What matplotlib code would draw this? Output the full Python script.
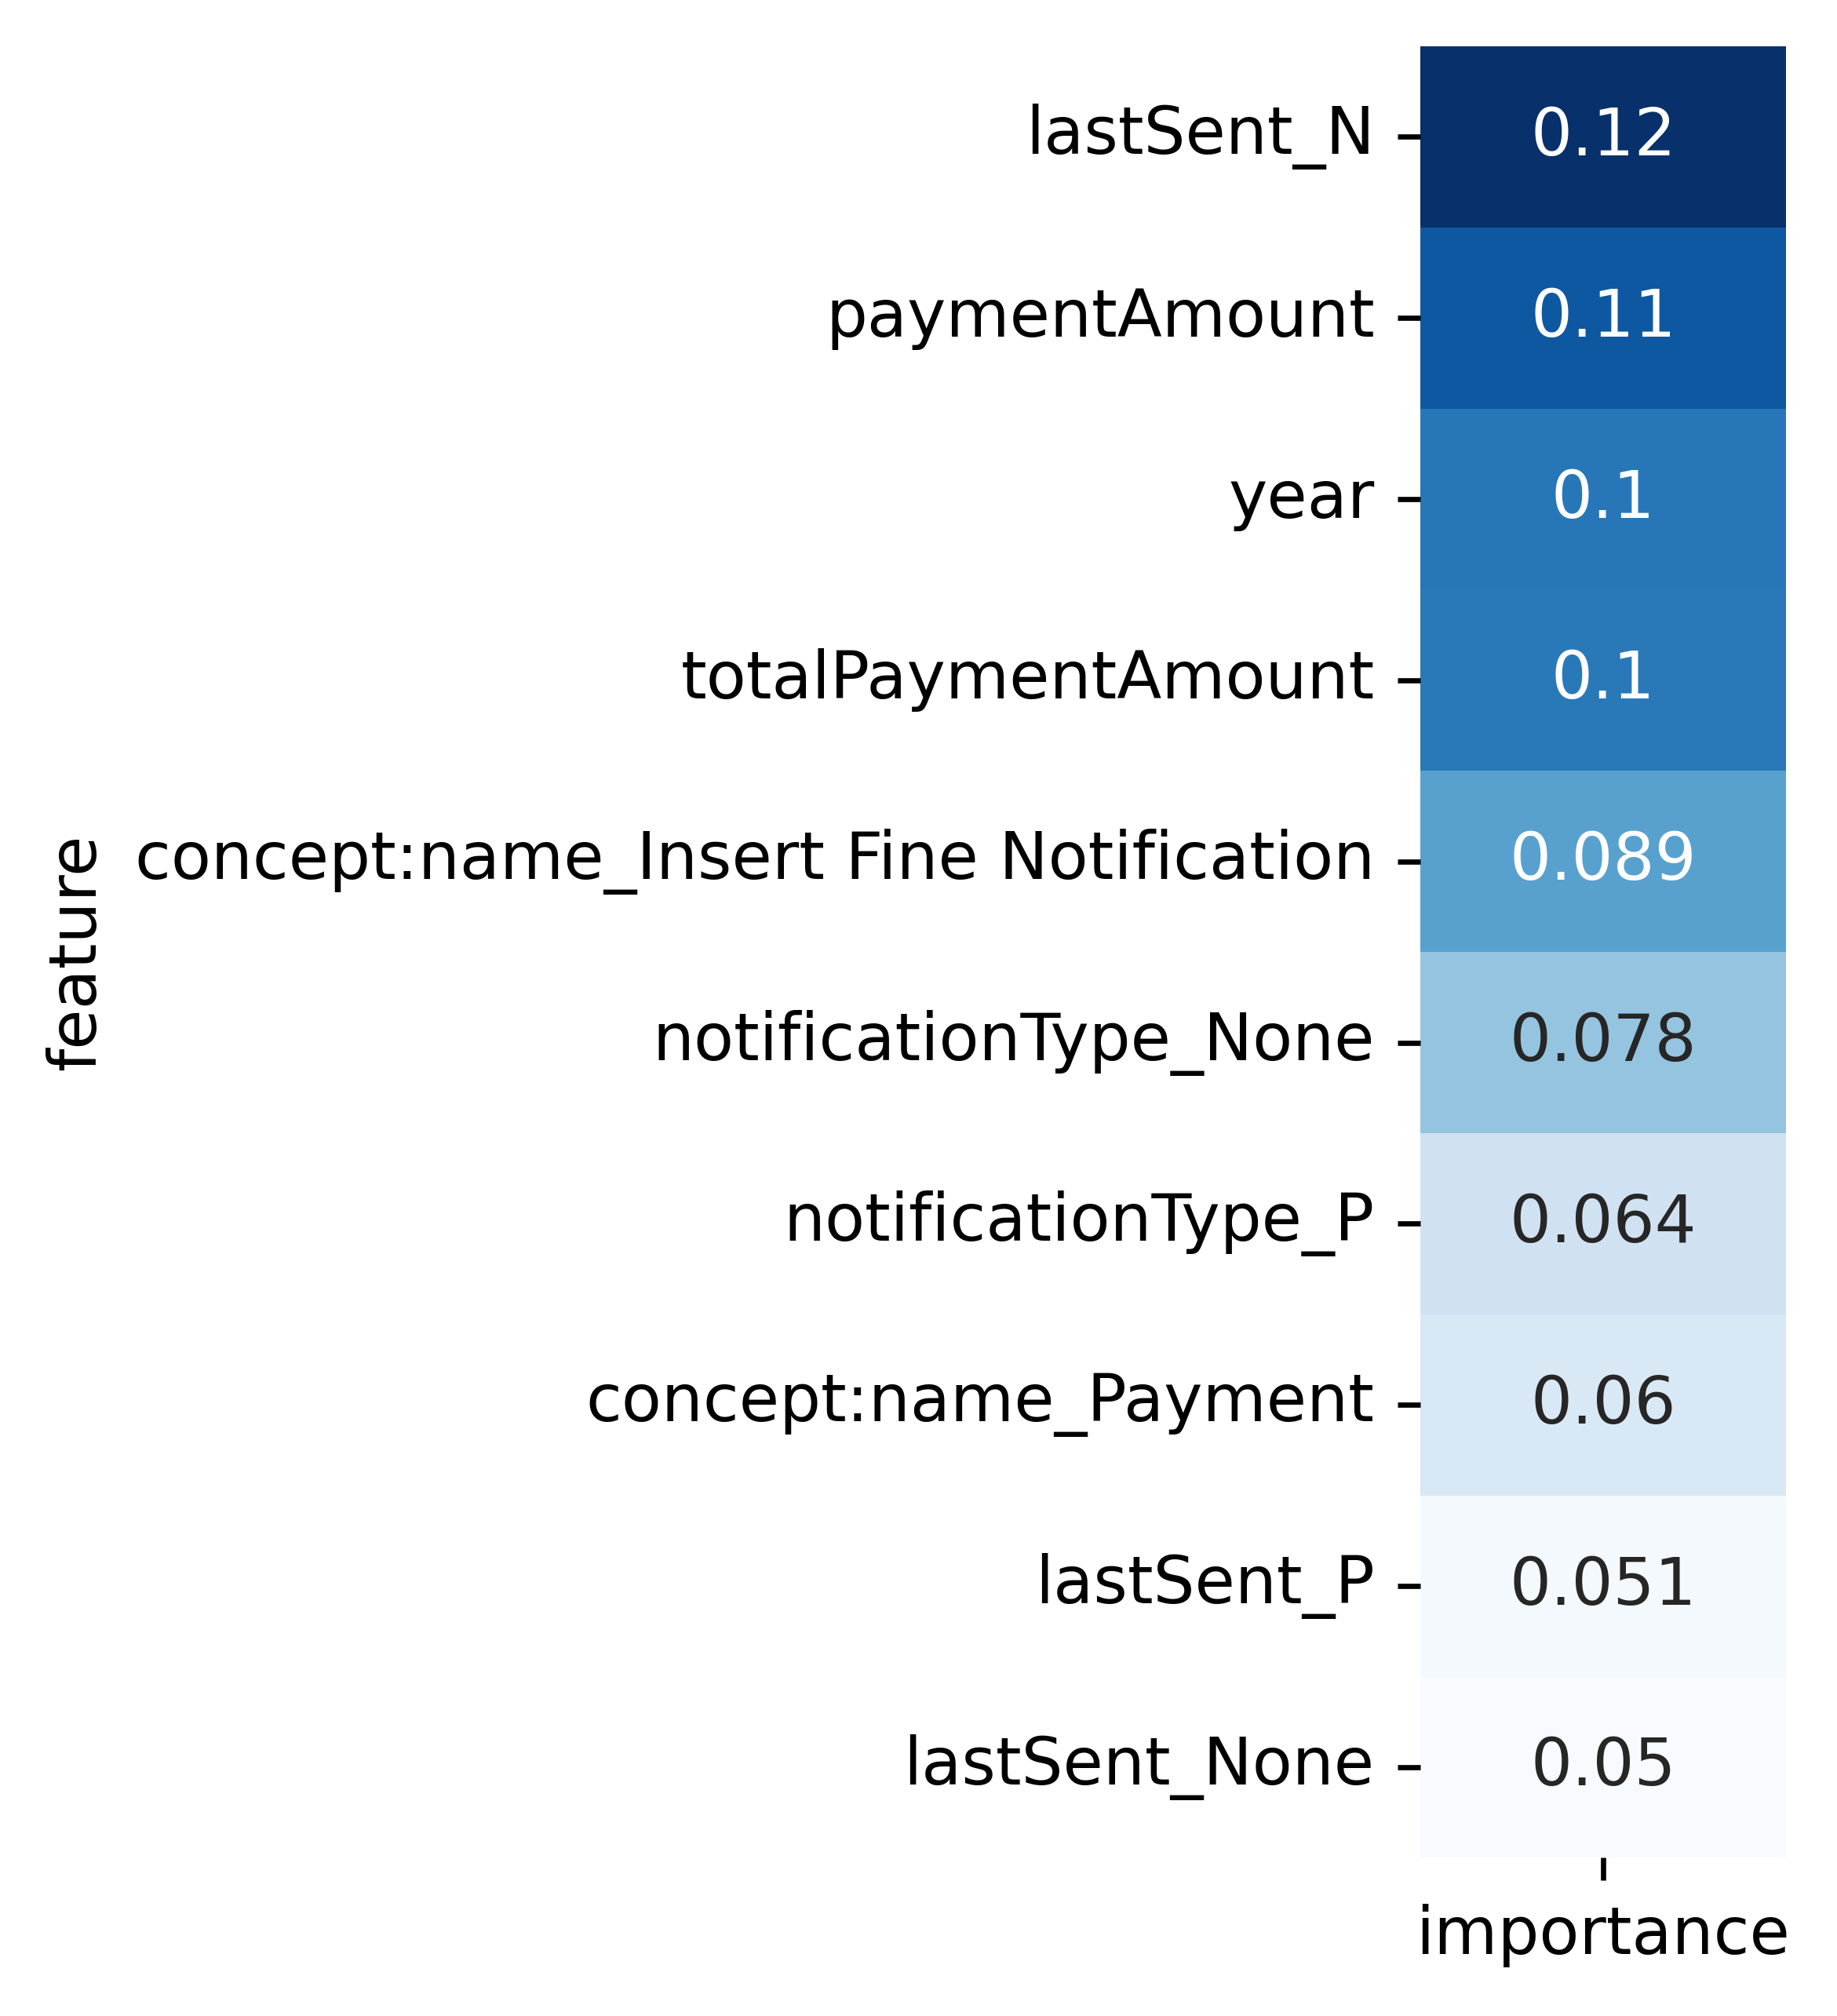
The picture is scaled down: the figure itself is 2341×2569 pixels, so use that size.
import matplotlib
matplotlib.use("Agg")
import matplotlib.pyplot as plt
import pandas as pd
import seaborn as sns

features = [
    "lastSent_N",
    "paymentAmount",
    "year",
    "totalPaymentAmount",
    "concept:name_Insert Fine Notification",
    "notificationType_None",
    "notificationType_P",
    "concept:name_Payment",
    "lastSent_P",
    "lastSent_None",
]
importance = [0.1203, 0.1094, 0.1010, 0.1005, 0.0891, 0.0779, 0.0641, 0.0603, 0.0510, 0.0498]

df = pd.DataFrame({"feature": features, "importance": importance}).set_index("feature")

fig = plt.figure(figsize=(2341 / 600, 2569 / 600), dpi=600)
ax = fig.add_axes([0.7732, 0.0785, 0.9722 - 0.7732, 0.9770 - 0.0785])
sns.heatmap(df, annot=True, cmap="Blues", cbar=False, ax=ax)
ax.set_ylabel("feature")
ax.set_xlabel("")
ax.tick_params(axis="y", rotation=0)

fig.savefig("out.png", dpi=600)
plt.close(fig)
